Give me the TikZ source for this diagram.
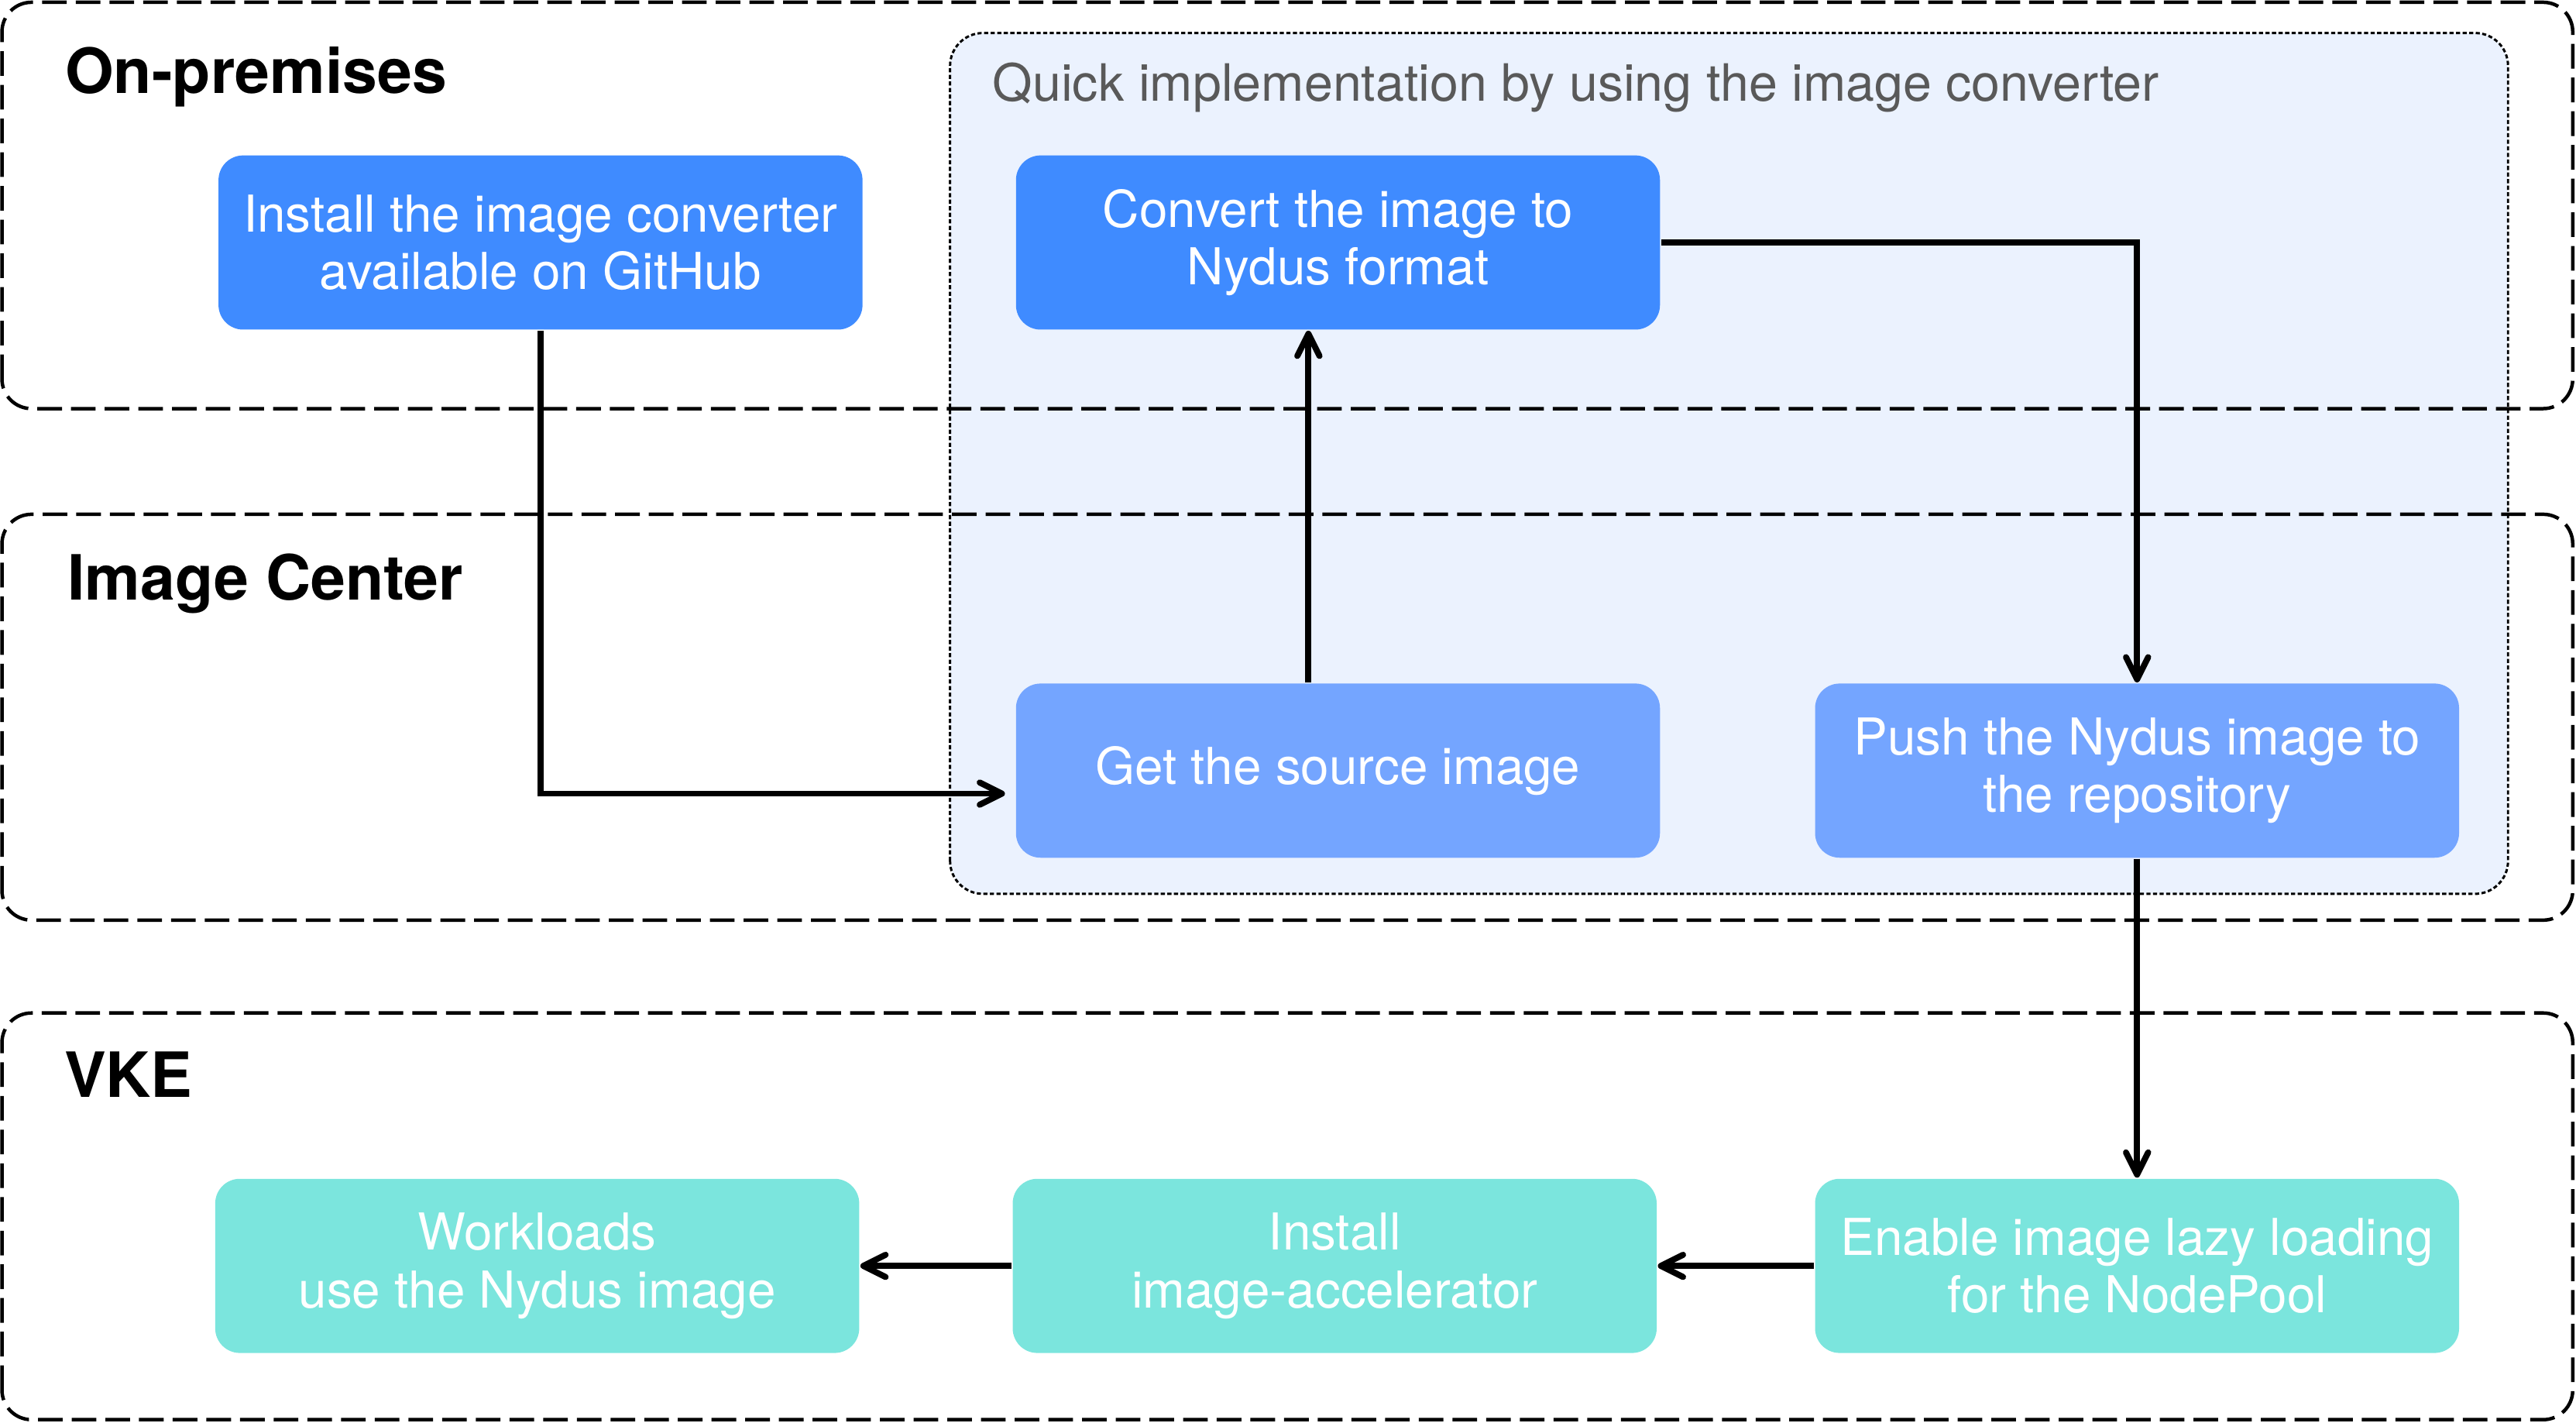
\documentclass[tikz,border=0pt]{standalone}
\usepackage{fontspec}
\setmainfont{TeX Gyre Heros}
\usepackage{tikz}
\usetikzlibrary{
  arrows.meta,
  positioning
}

\definecolor{azulforte}{HTML}{3F8BFF}
\definecolor{azulclaro}{HTML}{74A5FF}
\definecolor{verdeagua}{HTML}{7BE5DD}
\definecolor{fundogrupo}{HTML}{EBF2FE}
\definecolor{cinzatexto}{HTML}{595959}

\begin{document}
\begin{tikzpicture}[
      >={Straight Barb[length=1.35mm,width=1.35mm,round]},
      node distance=0.94cm,
      faixa/.style={draw=black, line width=0.6pt, dash pattern=on 1.5mm off 0.55mm, rounded corners=1.8mm},
      grupo/.style={draw=black, fill=fundogrupo, line width=0.4pt, dash pattern=on 0.25mm off 0.15mm, rounded corners=2mm},
      titulo/.style={anchor=base west, inner sep=0pt, font=\fontsize{10.8}{13}\selectfont\bfseries},
      etapa/.style={rounded corners=1.5mm, minimum width=3.92cm, minimum height=1.06cm, inner sep=0pt, align=center, text=white, font=\fontsize{8.8}{10}\selectfont},
      etapa_a/.style={etapa, fill=azulforte},
      etapa_b/.style={etapa, fill=azulclaro},
      etapa_c/.style={etapa, fill=verdeagua},
      seta/.style={->, line width=1.05pt}
  ]
      \useasboundingbox (0,0) rectangle (15.68,8.66);

      % Grupo do conversor
      \draw[grupo] (5.783,3.22) rectangle (15.266,8.459);
      \node[anchor=base west, inner sep=0pt, text=cinzatexto, font=\fontsize{8.9}{10}\selectfont] (tgrupo) at (6.035,8.047) {Quick implementation by using the image converter};

      % Faixas
      \draw[faixa] (0.012,6.173) rectangle (15.66,8.646);
      \draw[faixa] (0.012,3.06) rectangle (15.66,5.53);
      \draw[faixa] (0.012,0.02) rectangle (15.66,2.495);

      \node[titulo] (tlocal) at (0.39,8.09) {On-premises};
      \node[titulo] (tcentro) at (0.405,5.01) {Image Center};
      \node[titulo] (tvke) at (0.385,1.984) {VKE};

      % Etapas
      \node[etapa_a] (inst) at (3.29,7.184) {Install the image converter\\available on GitHub};
      \node[etapa_a, right=0.92cm of inst] (conv) {Convert the image to\\Nydus format};
      \node[etapa_b, below=2.14cm of conv] (get) {Get the source image};
      \node[etapa_b, right=0.93cm of get] (push) {Push the Nydus image to\\the repository};

      \node[etapa_c, below=1.94cm of push] (enab) {Enable image lazy loading\\for the NodePool};
      \node[etapa_c, left=0.95cm of enab] (accel) {Install\\image-accelerator};
      \node[etapa_c, left=0.92cm of accel] (work) {Workloads\\use the Nydus image};

      % Conexões
      \coordinate (sobe) at ([xshift=-1.8mm]get.north);
      \draw[seta, shorten >=0.6mm] (inst.south) |- ([yshift=-1.4mm]get.west);
      \draw[seta] (sobe) -- (sobe |- conv.south);
      \draw[seta] (conv.east) -| (push.north);
      \draw[seta] (push.south) -- (enab.north);
      \draw[seta] (enab.west) -- (accel.east);
      \draw[seta] (accel.west) -- (work.east);

  \end{tikzpicture}
\end{document}
